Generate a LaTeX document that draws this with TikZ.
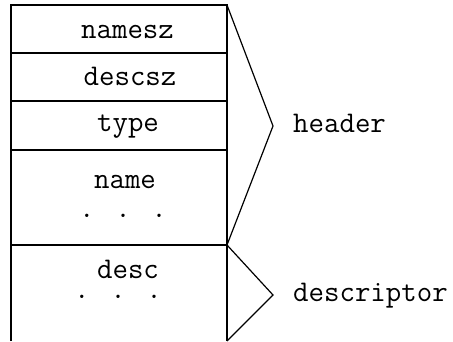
\documentclass[tikz,border=0pt]{standalone}
\usepackage{fontspec}
\begin{document}
\begin{tikzpicture}[x=1pt,y=-1pt,
  line/.style={draw=black,line width=1.2pt},
  lbl/.style={font=\ttfamily\fontsize{30}{32}\selectfont,inner sep=0pt,anchor=base},
  dots/.style={lbl,text height=4pt,text depth=0pt},
  side/.style={font=\ttfamily\fontsize{30}{32}\selectfont,inner sep=0pt,anchor=base west}]
\useasboundingbox (0,0) rectangle (453,341);
% box outline
\coordinate (tl) at (11,5);
\coordinate (tr) at (227,5);
\coordinate (bl) at (11,341);
\coordinate (br) at (227,341);
\coordinate (l1) at (11,53);  \coordinate (r1) at (227,53);
\coordinate (l2) at (11,101); \coordinate (r2) at (227,101);
\coordinate (l3) at (11,150); \coordinate (r3) at (227,150);
\coordinate (l4) at (11,245); \coordinate (r4) at (227,245);
\draw[line] (bl) -- (tl) -- (tr) -- (br);
\draw[line] (l1) -- (r1);
\draw[line] (l2) -- (r2);
\draw[line] (l3) -- (r3);
\draw[line] (l4) -- (r4);
% field labels
\node[lbl] (namesz) at (127.5,38) {namesz};
\node[lbl] (descsz) at (130,85) {descsz};
\node[lbl] (type) at (128,131) {type};
\node[lbl] (name) at (125,188) {name};
\node[dots] (namedots) at (123,217) {. . .};
\node[lbl] (desc) at (128,278) {desc};
\node[dots] (descdots) at (118,298) {. . .};
% brackets
\coordinate (htip) at (273,126);
\coordinate (dtip) at (273,295);
\draw[line,line join=miter] (tr) -- (htip) -- (r4);
\draw[line,line join=miter] (r4) -- (dtip) -- (br);
\node[side] (header) at (293,132) {header};
\node[side] (descriptor) at (293,301) {descriptor};
\end{tikzpicture}
\end{document}
